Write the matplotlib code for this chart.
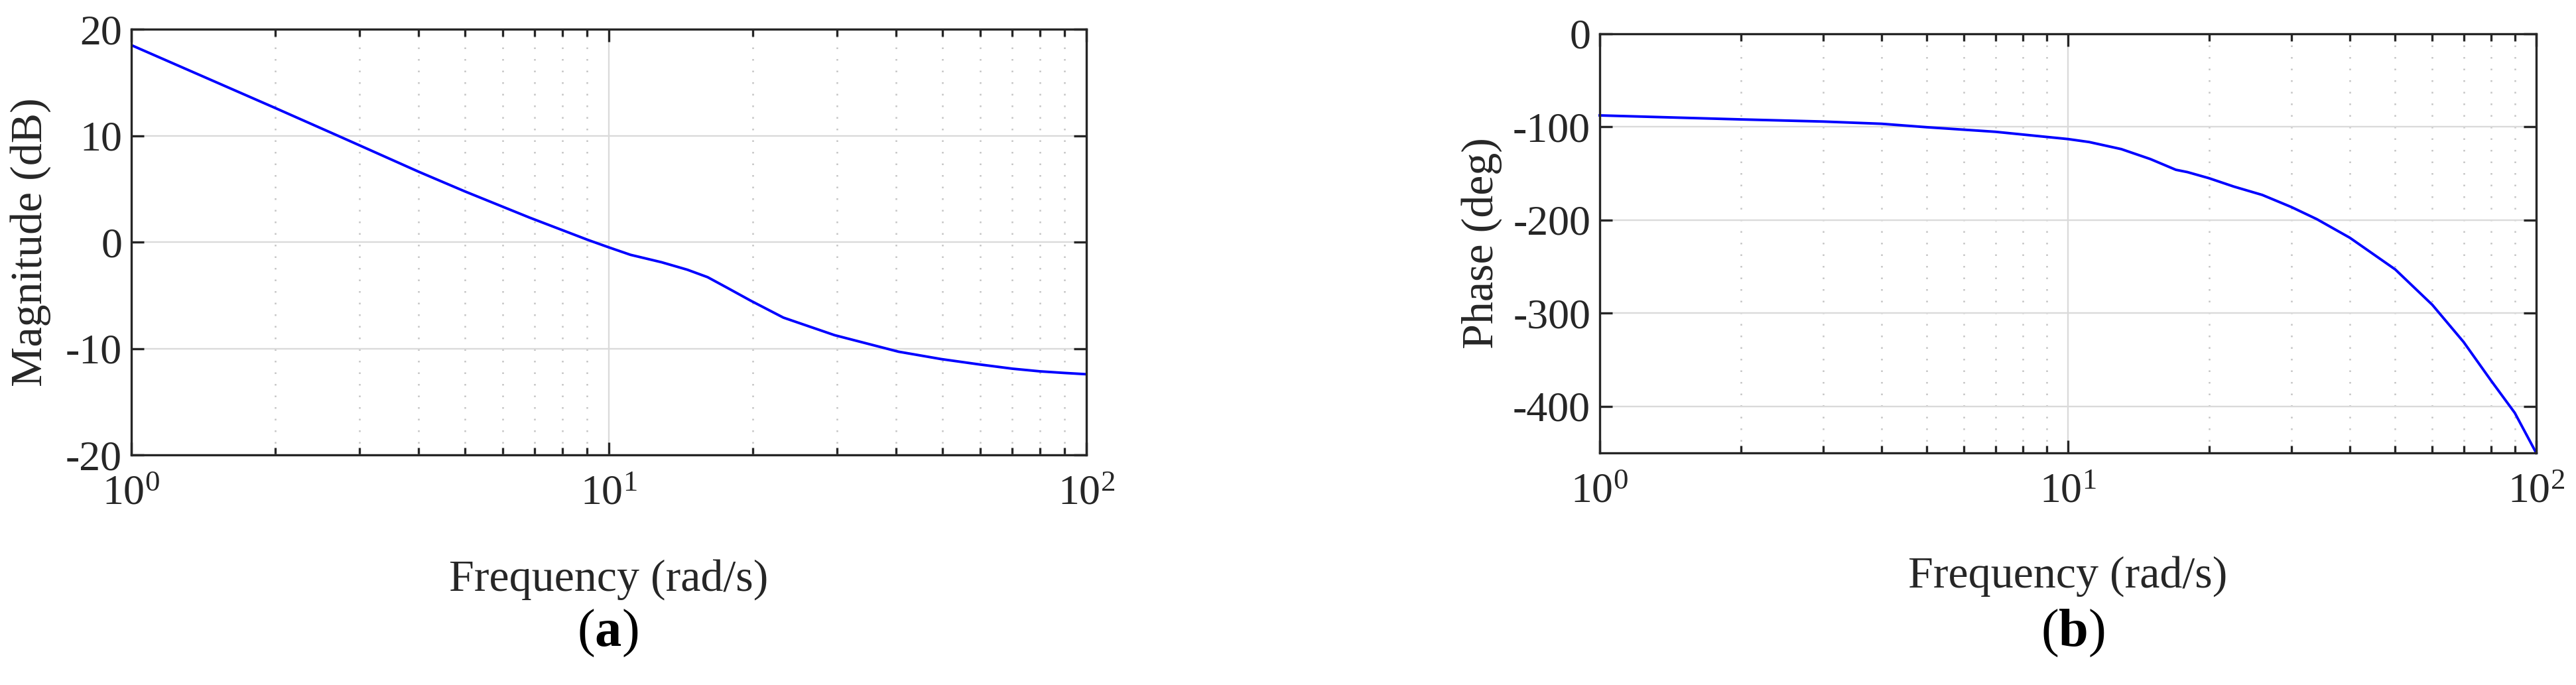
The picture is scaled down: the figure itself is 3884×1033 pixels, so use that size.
# Bode diagram: (a) magnitude and (b) phase versus frequency

import matplotlib
matplotlib.use('Agg')
import matplotlib.pyplot as plt
from matplotlib.ticker import LogLocator, NullLocator, FixedLocator

# Magnitude response
freq_mag = [1, 2, 2.72, 3, 4, 5, 6.82, 9.04, 10, 11.1, 12.9, 14.6, 16.1,
            17.7, 19.8, 23.2, 29.7, 40.4, 49.7, 59.7, 70, 80, 90, 100]
mag_db = [18.5, 12.6, 9.95, 9.1, 6.6, 4.75, 2.3, 0.2, -0.5, -1.2, -1.9, -2.6, -3.3,
          -4.3, -5.5, -7.1, -8.75, -10.3, -11.0, -11.5, -11.9, -12.15, -12.3, -12.42]

# Phase response
freq_ph = [1, 2, 3, 4, 5, 7, 9, 10, 11.1, 13, 15, 17, 18, 20, 22.6, 26, 30, 34,
           40, 50, 60, 70, 80, 90, 100]
phase_deg = [-87.6, -91.9, -94.2, -96.6, -100.3, -105.2, -110.7, -113, -116.2,
             -123.8, -134.5, -146, -148.5, -155, -164, -173, -186, -199,
             -219, -253, -291, -331, -372, -407, -450]

mag_ticks = [-20, -10, 0, 10, 20]
phase_ticks = [-400, -300, -200, -100, 0]

plt.rcParams['font.family'] = ['Liberation Serif', 'DejaVu Serif']
plt.rcParams['mathtext.fontset'] = 'custom'
plt.rcParams['mathtext.rm'] = 'Liberation Serif'
plt.rcParams['mathtext.it'] = 'Liberation Serif:italic'
plt.rcParams['mathtext.bf'] = 'Liberation Serif:bold'
plt.rcParams['axes.unicode_minus'] = False

dark = '#262626'
fig = plt.figure(figsize=(38.84, 10.33), dpi=100)
ax1 = fig.add_axes([0.05098, 0.33591, 0.37075, 0.62149])
ax2 = fig.add_axes([0.62101, 0.33882, 0.36354, 0.61181])


def style(ax, yticks, ylim, ylabel, ylab_x):
    ax.set_xscale('log')
    ax.set_xlim(1, 100)
    ax.set_ylim(*ylim)
    ax.yaxis.set_major_locator(FixedLocator(yticks))
    ax.yaxis.set_minor_locator(NullLocator())
    ax.xaxis.set_major_locator(LogLocator(base=10))
    ax.xaxis.set_minor_locator(LogLocator(base=10, subs=range(2, 10)))
    ax.set_axisbelow(True)
    ax.grid(True, which='major', color='#dadada', lw=1.7, ls='-')
    ax.grid(True, which='minor', axis='x', color='#c4c4c4', lw=1.8, ls=(0, (1, 6)))
    for sp in ax.spines.values():
        sp.set_color(dark)
        sp.set_linewidth(2.4)
    ax.tick_params(which='both', direction='in', top=True, right=True,
                   colors=dark, labelsize=46, width=2.4)
    ax.tick_params(which='major', length=14)
    ax.tick_params(axis='x', which='major', pad=22)
    ax.tick_params(axis='y', which='major', pad=10)
    ax.tick_params(which='minor', length=8)
    ax.set_xlabel('Frequency (rad/s)', fontsize=49, color=dark)
    ax.set_ylabel(ylabel, fontsize=49, color=dark)
    ax.xaxis.set_label_coords(0.5, -0.245)
    ax.yaxis.set_label_coords(ylab_x, 0.5)


ax1.plot(freq_mag, mag_db, color='#0000ff', lw=2.8)
style(ax1, mag_ticks, (-20, 20), 'Magnitude (dB)', -0.084)

ax2.plot(freq_ph, phase_deg, color='#0000ff', lw=2.8, clip_on=False)
style(ax2, phase_ticks, (-450, 0), 'Phase (deg)', -0.104)

fig.text(916 / 3884, 1 - 955 / 1033, r'($\mathbf{a}$)', fontsize=58,
         ha='center', va='center', color='black')
fig.text(3125 / 3884, 1 - 955 / 1033, r'($\mathbf{b}$)', fontsize=58,
         ha='center', va='center', color='black')

fig.savefig('out.png', dpi=100, facecolor='white')
